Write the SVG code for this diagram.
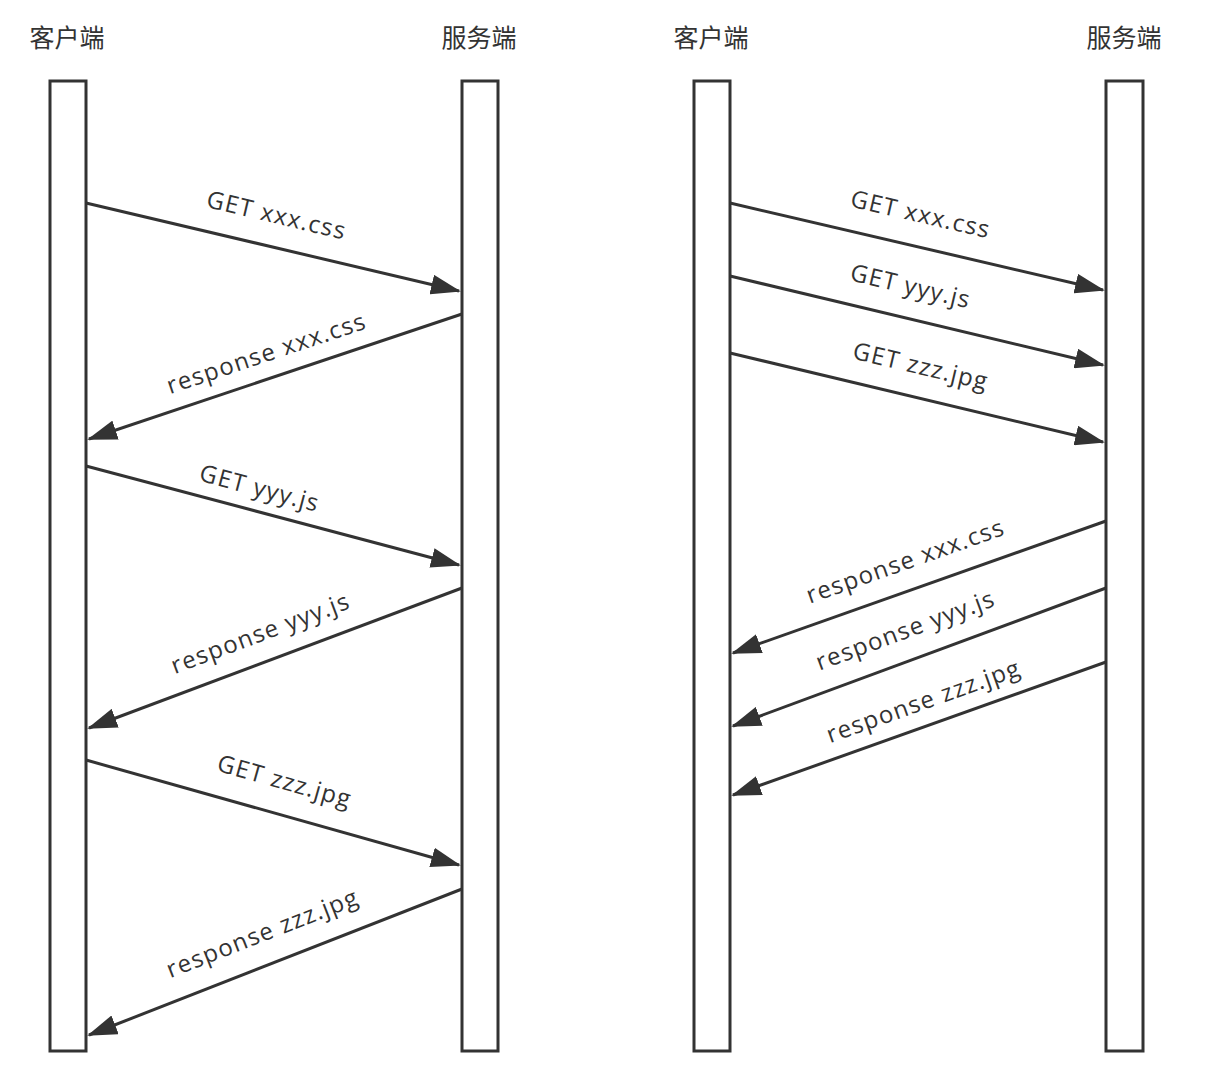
<svg xmlns="http://www.w3.org/2000/svg" width="1218" height="1074" viewBox="0 0 1218 1074">
<style>
.bar{fill:#fff;stroke:#333;stroke-width:3}
.hdr{font-family:"Noto Sans CJK SC","Noto Sans",sans-serif;font-size:25px;fill:#333;text-anchor:middle}
.msg{stroke:#333;stroke-width:3;fill:none;marker-end:url(#ah)}
.lbl{font-family:"Open Sans","Noto Sans",sans-serif;font-size:24px;letter-spacing:1.3px;fill:#333;text-anchor:middle;dominant-baseline:central}
</style>
<defs>
<marker id="ah" viewBox="0 0 30 20" refX="28" refY="10" markerWidth="30" markerHeight="20" markerUnits="userSpaceOnUse" orient="auto">
<path d="M0,0 L30,10 L0,20 z" fill="#333"/>
</marker>
</defs>
<rect width="1218" height="1074" fill="#fff"/>
<g id="left-client"><text class="hdr" x="67" y="47">客户端</text><rect class="bar" x="50" y="81" width="36" height="970"/></g>
<g id="left-server"><text class="hdr" x="479" y="47">服务端</text><rect class="bar" x="462" y="81" width="36" height="970"/></g>
<g id="right-client"><text class="hdr" x="711" y="47">客户端</text><rect class="bar" x="694" y="81" width="36" height="970"/></g>
<g id="right-server"><text class="hdr" x="1124" y="47">服务端</text><rect class="bar" x="1106" y="81" width="37" height="970"/></g>
<g id="connectors">
<line class="msg" x1="86" y1="203" x2="459" y2="291"/>
<line class="msg" x1="462" y1="314" x2="89" y2="439"/>
<line class="msg" x1="86" y1="466" x2="459" y2="565"/>
<line class="msg" x1="462" y1="588" x2="89" y2="728"/>
<line class="msg" x1="86" y1="760" x2="459" y2="865"/>
<line class="msg" x1="462" y1="889" x2="89" y2="1035"/>
<line class="msg" x1="730" y1="203" x2="1103" y2="290"/>
<line class="msg" x1="730" y1="276" x2="1103" y2="365"/>
<line class="msg" x1="730" y1="353" x2="1103" y2="442"/>
<line class="msg" x1="1106" y1="521" x2="733" y2="653"/>
<line class="msg" x1="1106" y1="588" x2="733" y2="726"/>
<line class="msg" x1="1106" y1="662" x2="733" y2="795"/>
</g>
<g id="labels">
<text class="lbl" transform="translate(277,214) rotate(13.3)">GET xxx.css</text>
<text class="lbl" transform="translate(266,352) rotate(-18.5)">response xxx.css</text>
<text class="lbl" transform="translate(260,487) rotate(14.9)">GET yyy.js</text>
<text class="lbl" transform="translate(260,632) rotate(-20.6)">response yyy.js</text>
<text class="lbl" transform="translate(285,780) rotate(15.7)">GET zzz.jpg</text>
<text class="lbl" transform="translate(262,932) rotate(-21.4)">response zzz.jpg</text>
<text class="lbl" transform="translate(921,213) rotate(13)">GET xxx.css</text>
<text class="lbl" transform="translate(911,285) rotate(13.3)">GET yyy.js</text>
<text class="lbl" transform="translate(921,365) rotate(13.3)">GET zzz.jpg</text>
<text class="lbl" transform="translate(905,560) rotate(-19.5)">response xxx.css</text>
<text class="lbl" transform="translate(905,629) rotate(-20.3)">response yyy.js</text>
<text class="lbl" transform="translate(923,700) rotate(-19.6)">response zzz.jpg</text>
</g>
</svg>
